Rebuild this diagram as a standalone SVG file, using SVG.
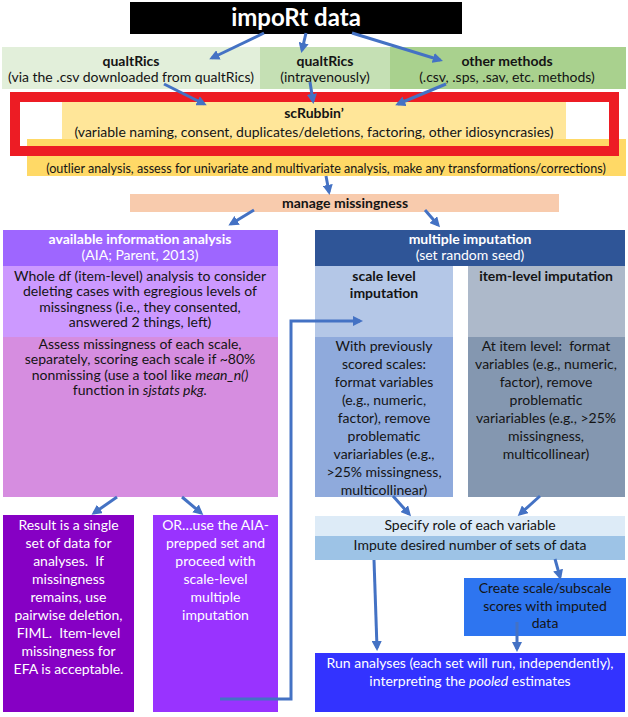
<svg xmlns="http://www.w3.org/2000/svg" width="628" height="717" viewBox="0 0 628 717">
<defs>
<marker id="ah" viewBox="0 0 10 10" refX="7" refY="5" markerWidth="3.4" markerHeight="3.4" orient="auto" markerUnits="strokeWidth"><path d="M0,0 L10,5 L0,10 z" fill="#4472c4"/></marker>
</defs>
<style>
text{font-family:Lato,"Liberation Sans",sans-serif;font-size:14px;text-anchor:middle;fill:#141414}
.b{font-weight:bold}
.w{fill:#fff}
.i{font-style:italic}
.c{stroke:#4472c4;stroke-width:3;fill:none;marker-end:url(#ah)}
</style>
<rect width="628" height="717" fill="#fff"/>
<g id="import">
<rect x="130" y="2" width="332" height="32" fill="#000"/>
<text x="296" y="26" class="b w" style="font-size:24px">impoRt data</text>
</g>
<g id="qualtrics-csv">
<rect x="2" y="47" width="258" height="42" fill="#e2efda"/>
<text x="131" y="66" class="b">qualtRics</text>
<text x="131" y="82">(via the .csv downloaded from qualtRics)</text>
</g>
<g id="qualtrics-iv">
<rect x="260" y="47" width="130" height="42" fill="#c5e0b4"/>
<text x="325" y="66" class="b">qualtRics</text>
<text x="325" y="82">(intravenously)</text>
</g>
<g id="other-methods">
<rect x="390" y="47" width="236" height="42" fill="#a9d18e"/>
<text x="507" y="66" class="b">other methods</text>
<text x="507" y="82">(.csv, .sps, .sav, etc. methods)</text>
</g>
<g id="scrubbin">
<rect x="62" y="100" width="504" height="39" fill="#ffe699"/>
<text x="314" y="118" class="b">scRubbin’</text>
<text x="314" y="137">(variable naming, consent, duplicates/deletions, factoring, other idiosyncrasies)</text>
</g>
<g id="outlier">
<rect x="27" y="139" width="599" height="37" fill="#ffd966"/>
<text x="326" y="173" style="font-size:12.6px">(outlier analysis, assess for univariate and multivariate analysis, make any transformations/corrections)</text>
</g>
<g id="highlight">
<rect x="15" y="97" width="599" height="54" fill="none" stroke="#ed1c24" stroke-width="10"/>
</g>
<g id="manage">
<rect x="130" y="194" width="429" height="18" fill="#f8cbad"/>
<text x="345" y="208" class="b">manage missingness</text>
</g>
<g id="aia">
<rect x="3" y="230" width="275" height="36" fill="#9e66ff"/>
<text x="140" y="244" class="b w">available information analysis</text>
<text x="140" y="260" class="w">(AIA; Parent, 2013)</text>
<rect x="3" y="266" width="275" height="71" fill="#cc99ff"/>
<text x="140" y="281">Whole df (item-level) analysis to consider</text>
<text x="140" y="296.3">deleting cases with egregious levels of</text>
<text x="140" y="311.6">missingness (i.e., they consented,</text>
<text x="140" y="327">answered 2 things, left)</text>
<rect x="3" y="337" width="275" height="160" fill="#d68de0"/>
<text x="140" y="349">Assess missingness of each scale,</text>
<text x="140" y="364.3">separately, scoring each scale if ~80%</text>
<text x="140" y="379.6">nonmissing (use a tool like <tspan class="i">mean_n()</tspan></text>
<text x="140" y="395">function in <tspan class="i">sjstats pkg.</tspan></text>
</g>
<g id="multiple-imputation">
<rect x="315" y="230" width="310" height="36" fill="#2f5597"/>
<text x="470" y="244" class="b w">multiple imputation</text>
<text x="470" y="260" class="w">(set random seed)</text>
</g>
<g id="scale-level">
<rect x="315" y="266" width="138" height="71" fill="#b4c7e7"/>
<rect x="315" y="337" width="138" height="160" fill="#8faadc"/>
<text x="384" y="281" class="b">scale level</text>
<text x="384" y="298" class="b">imputation</text>
<text x="384" y="351">With previously</text>
<text x="384" y="369">scored scales:</text>
<text x="384" y="387">format variables</text>
<text x="384" y="405">(e.g., numeric,</text>
<text x="384" y="423">factor), remove</text>
<text x="384" y="441">problematic</text>
<text x="384" y="459">variariables (e.g.,</text>
<text x="384" y="477">&gt;25% missingness,</text>
<text x="384" y="495">multicollinear)</text>
</g>
<g id="item-level">
<rect x="468" y="266" width="157" height="71" fill="#adb9ca"/>
<rect x="468" y="337" width="157" height="160" fill="#8497b0"/>
<text x="546" y="281" class="b">item-level imputation</text>
<text x="546" y="351">At item level:&#160; format</text>
<text x="546" y="369">variables (e.g., numeric,</text>
<text x="546" y="387">factor), remove</text>
<text x="546" y="405">problematic</text>
<text x="546" y="423">variariables (e.g., &gt;25%</text>
<text x="546" y="441">missingness,</text>
<text x="546" y="459">multicollinear)</text>
</g>
<g id="result">
<rect x="3" y="515" width="131" height="197" fill="#8600c4"/>
<text x="68.5" y="530" class="w">Result is a single</text>
<text x="68.5" y="548" class="w">set of data for</text>
<text x="68.5" y="566" class="w">analyses.&#160; If</text>
<text x="68.5" y="584" class="w">missingness</text>
<text x="68.5" y="602" class="w">remains, use</text>
<text x="68.5" y="620" class="w">pairwise deletion,</text>
<text x="68.5" y="638" class="w">FIML.&#160; Item-level</text>
<text x="68.5" y="656" class="w">missingness for</text>
<text x="68.5" y="674" class="w">EFA is acceptable.</text>
</g>
<g id="or-aia">
<rect x="153" y="515" width="125" height="197" fill="#9933ff"/>
<text x="215.5" y="530" class="w">OR…use the AIA-</text>
<text x="215.5" y="548" class="w">prepped set and</text>
<text x="215.5" y="566" class="w">proceed with</text>
<text x="215.5" y="584" class="w">scale-level</text>
<text x="215.5" y="602" class="w">multiple</text>
<text x="215.5" y="620" class="w">imputation</text>
</g>
<g id="specify">
<rect x="315" y="516" width="310" height="20" fill="#ddebf7"/>
<text x="470" y="530">Specify role of each variable</text>
</g>
<g id="impute">
<rect x="315" y="536" width="310" height="24" fill="#9dc3e6"/>
<text x="470" y="550">Impute desired number of sets of data</text>
</g>
<g id="create">
<rect x="464" y="578" width="162" height="58" fill="#2e75f0"/>
<text x="545" y="593">Create scale/subscale</text>
<text x="545" y="610.5">scores with imputed</text>
<text x="545" y="628">data</text>
</g>
<g id="run">
<rect x="315" y="653" width="310" height="59" fill="#3333ff"/>
<text x="470" y="668" class="w">Run analyses (each set will run, independently),</text>
<text x="470" y="686" class="w">interpreting the <tspan class="i">pooled</tspan> estimates</text>
</g>
<g id="connectors">
<path class="c" d="M264,33 L212,58"/>
<path class="c" d="M306,33 L302,50"/>
<path class="c" d="M352,33 L440,60"/>
<path class="c" d="M164,84 L204,104"/>
<path class="c" d="M310,82 L313,101"/>
<path class="c" d="M446,84 L398,104"/>
<path class="c" d="M326,176 L329,192"/>
<path class="c" d="M254,210 L231,224"/>
<path class="c" d="M425,210 L438,225"/>
<path class="c" d="M117,497 L94,513"/>
<path class="c" d="M182,497 L201,513"/>
<path class="c" d="M220,699 L291,699 L291,321 L360,321"/>
<path class="c" d="M393,496 L409,514"/>
<path class="c" d="M540,496 L520,514"/>
<path class="c" d="M374,560 L377,648"/>
<path class="c" d="M555,559 L560,577"/>
<path class="c" d="M517,622 L517,649"/>
</g>
</svg>
